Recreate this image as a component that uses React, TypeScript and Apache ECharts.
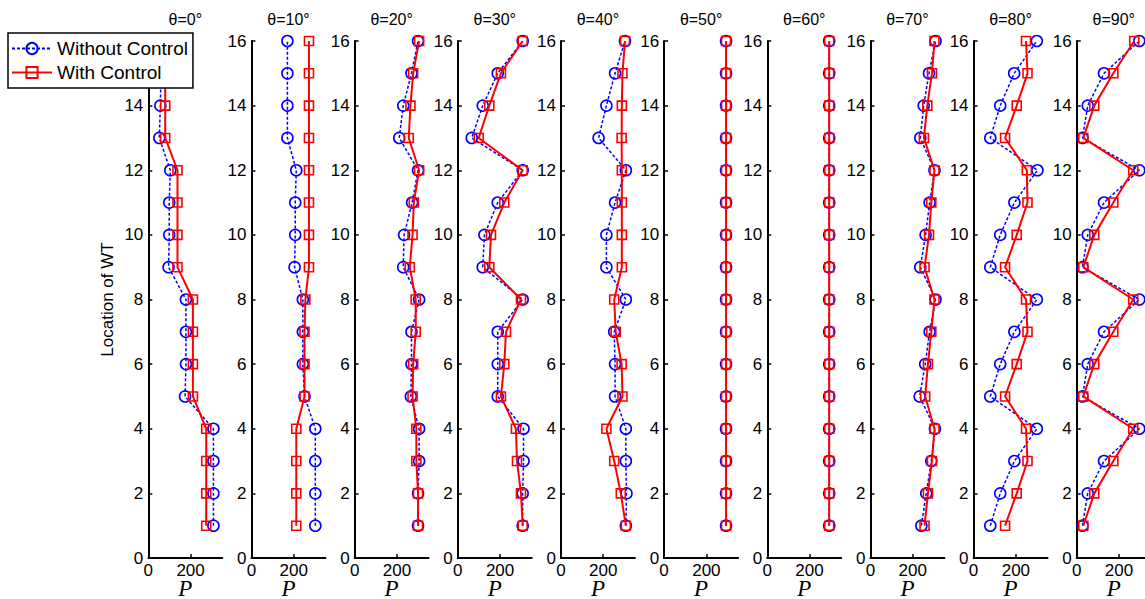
import React, { useEffect, useRef } from 'react';
import * as echarts from 'echarts';

// Titles of the ten panels
const angleTitles = ['θ=0°', 'θ=10°', 'θ=20°', 'θ=30°', 'θ=40°', 'θ=50°', 'θ=60°', 'θ=70°', 'θ=80°', 'θ=90°'];

// Wind-turbine locations (y values)
const locations = [1, 2, 3, 4, 5, 6, 7, 8, 9, 10, 11, 12, 13, 14, 15, 16];

// X-axis tick labels
const xTickValues = [0, 200];

// Power P per location (index 0 -> location 1)
const without0 = [308, 308, 308, 308, 174, 178, 178, 178, 96, 99, 99, 104, 52, 57, 60, 62];
const with0 = [274, 274, 274, 274, 211, 211, 211, 211, 138, 138, 138, 138, 80, 80, 80, 80];

const without10 = [302, 302, 302, 302, 251, 243, 243, 243, 204, 207, 207, 212, 170, 170, 170, 170];
const with10 = [212, 212, 212, 212, 251, 251, 251, 255, 272, 272, 272, 272, 272, 272, 272, 272];

const without20 = [300, 300, 305, 305, 266, 269, 269, 305, 230, 234, 272, 300, 211, 230, 269, 300];
const with20 = [300, 300, 292, 292, 274, 277, 289, 289, 261, 274, 280, 305, 256, 264, 277, 305];

const without30 = [307, 307, 311, 311, 189, 189, 189, 307, 118, 126, 189, 307, 66, 118, 189, 307];
const with30 = [307, 299, 280, 275, 204, 220, 228, 299, 149, 157, 220, 307, 99, 149, 204, 307];

const without40 = [307, 310, 307, 307, 256, 256, 252, 307, 215, 215, 256, 307, 178, 215, 256, 303];
const with40 = [307, 283, 252, 215, 291, 287, 259, 252, 288, 288, 288, 288, 287, 288, 291, 303];

const without50 = [293, 293, 293, 293, 293, 293, 293, 293, 293, 293, 293, 293, 293, 293, 293, 293];
const with50 = [293, 293, 293, 293, 293, 293, 293, 293, 293, 293, 293, 293, 293, 293, 293, 293];

const without60 = [293, 293, 293, 293, 293, 293, 293, 293, 293, 293, 293, 293, 293, 293, 293, 293];
const with60 = [293, 293, 293, 293, 293, 293, 293, 293, 293, 293, 293, 293, 293, 293, 293, 293];

const without70 = [241, 264, 288, 305, 233, 259, 280, 308, 236, 261, 280, 303, 236, 252, 277, 308];
const with70 = [256, 272, 291, 303, 259, 272, 288, 303, 256, 277, 288, 303, 253, 269, 291, 303];

const without80 = [79, 126, 193, 299, 79, 126, 193, 299, 79, 126, 193, 302, 79, 126, 192, 299];
const with80 = [149, 204, 255, 248, 149, 204, 255, 248, 149, 204, 255, 252, 149, 204, 255, 248];

const without90 = [27, 52, 129, 296, 27, 52, 129, 296, 27, 52, 129, 296, 27, 52, 129, 296];
const with90 = [31, 83, 173, 267, 31, 83, 173, 267, 31, 83, 173, 267, 31, 83, 173, 272];

const withoutControl = [without0, without10, without20, without30, without40, without50, without60, without70, without80, without90];
const withControl = [with0, with10, with20, with30, with40, with50, with60, with70, with80, with90];

const SANS = '"Liberation Sans", Arial, Helvetica, sans-serif';
const SERIF = '"Liberation Serif", "Times New Roman", serif';

export default function App() {
  const ref = useRef<HTMLDivElement>(null);

  useEffect(() => {
    if (!ref.current) return;
    const chart = echarts.init(ref.current, null, { renderer: 'svg' });

    const left0 = 148.3;
    const step = 103.16;
    const gw = 74;
    const top = 41;
    const gh = 517;

    const grids: any[] = [];
    const xAxes: any[] = [];
    const yAxes: any[] = [];
    const series: any[] = [];
    const graphics: any[] = [];

    for (let i = 0; i < angleTitles.length; i++) {
      const left = left0 + i * step;
      grids.push({ left, top, width: gw, height: gh, outerBoundsMode: 'none', containLabel: false });
      xAxes.push({
        gridIndex: i,
        type: 'value',
        min: 0,
        max: 350,
        interval: 200,
        axisLine: { show: true, onZero: false, lineStyle: { color: '#000', width: 2 } },
        axisTick: { show: true, inside: true, length: 4, customValues: xTickValues, lineStyle: { color: '#000', width: 1.5 } },
        axisLabel: { show: true, margin: 4, color: '#000', fontSize: 17, lineHeight: 17, fontFamily: SANS, customValues: xTickValues },
        splitLine: { show: false },
        name: 'P',
        nameLocation: 'middle',
        nameGap: 22,
        nameMoveOverlap: false,
        nameTextStyle: { fontFamily: SERIF, fontStyle: 'italic', fontSize: 23, color: '#000', lineHeight: 16 },
      });
      yAxes.push({
        gridIndex: i,
        type: 'value',
        min: 0,
        max: 16,
        interval: 2,
        axisLine: { show: true, onZero: false, lineStyle: { color: '#000', width: 2 } },
        axisTick: { show: true, inside: true, length: 4, lineStyle: { color: '#000', width: 1.5 } },
        axisLabel: {
          show: true,
          margin: 5,
          color: '#000',
          fontSize: 17,
          fontFamily: SANS,
          // the first panel's top label sits under the legend box
          formatter: (v: number) => (i === 0 && v === 16 ? '' : String(v)),
        },
        splitLine: { show: false },
        name: i === 0 ? 'Location of WT' : '',
        nameLocation: 'middle',
        nameGap: 32,
        nameMoveOverlap: false,
        nameTextStyle: { fontFamily: SANS, fontSize: 17, color: '#000' },
      });
      series.push({
        name: 'Without Control',
        type: 'line',
        xAxisIndex: i,
        yAxisIndex: i,
        data: withoutControl[i].map((v, k) => [v, locations[k]]),
        symbol: 'circle',
        symbolSize: 11,
        showAllSymbol: true,
        itemStyle: { color: 'rgba(255,255,255,0)', borderColor: '#0000ff', borderWidth: 1.6 },
        lineStyle: { color: '#0000ff', width: 1.5, type: [3, 2] },
        emphasis: { disabled: true },
        z: 2,
      });
      series.push({
        name: 'With Control',
        type: 'line',
        xAxisIndex: i,
        yAxisIndex: i,
        data: withControl[i].map((v, k) => [v, locations[k]]),
        symbol: 'rect',
        symbolSize: 9,
        showAllSymbol: true,
        itemStyle: { color: 'rgba(255,255,255,0)', borderColor: '#ff0000', borderWidth: 1.6 },
        lineStyle: { color: '#ff0000', width: 2 },
        emphasis: { disabled: true },
        z: 3,
      });
      graphics.push({
        type: 'text',
        x: left + gw / 2,
        y: 19,
        style: {
          text: angleTitles[i],
          fontSize: 16,
          fontFamily: SANS,
          fill: '#000',
          align: 'center',
          verticalAlign: 'middle',
        },
      });
    }

    chart.setOption({
      animation: false,
      backgroundColor: '#fff',
      grid: grids,
      xAxis: xAxes,
      yAxis: yAxes,
      series,
      graphic: graphics,
      legend: {
        data: ['Without Control', 'With Control'],
        orient: 'vertical',
        left: 8,
        top: 33,
        backgroundColor: '#fff',
        borderColor: '#000',
        borderWidth: 1.5,
        borderRadius: 0,
        padding: [6, 5, 6, 3],
        itemGap: 5,
        itemWidth: 40,
        itemHeight: 14,
        selectedMode: false,
        textStyle: { fontSize: 19, fontFamily: SANS, color: '#000' },
        z: 10,
      },
    });

    return () => {
      chart.dispose();
    };
  }, []);

  return (
    <div
      ref={ref}
      style={{ position: 'absolute', left: 0, top: 0, width: 1145, height: 599 }}
    />
  );
}
